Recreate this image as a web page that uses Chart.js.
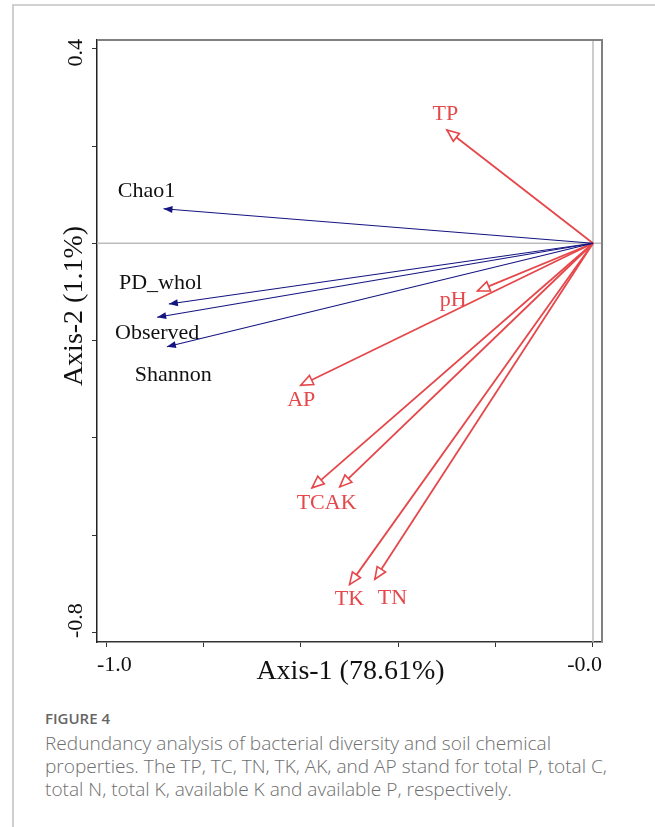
<!DOCTYPE html>
<html>
<head>
<meta charset="utf-8">
<script src="https://cdn.jsdelivr.net/npm/chart.js@4"></script>
<style>
html,body{margin:0;padding:0;background:#fff;width:655px;height:827px;overflow:hidden;position:relative;}
#frameTop{position:absolute;left:12px;top:4px;width:643px;height:2px;background:#d2d2d2;}
#frameLeft{position:absolute;left:12px;top:4px;width:2px;height:823px;background:#cfcfcf;}
#wrap{position:absolute;left:0;top:0;width:655px;height:690px;}
#fig{position:absolute;left:45px;top:708px;font-family:'Open Sans',sans-serif;font-weight:600;font-size:15px;color:#666;}
#cap{position:absolute;left:45px;top:732px;width:610px;font-family:'Open Sans',sans-serif;font-weight:300;font-size:19.1px;line-height:23px;color:#6e6e6e;white-space:nowrap;}
</style>
</head>
<body>
<div id="frameTop"></div>
<div id="frameLeft"></div>
<div id="wrap"><canvas id="c" width="655" height="690"></canvas></div>
<div id="fig">FIGURE 4</div>
<div id="cap">Redundancy analysis of bacterial diversity and soil chemical<br>properties. The TP, TC, TN, TK, AK, and AP stand for total P, total C,<br>total N, total K, available K and available P, respectively.</div>
<script>
// ---- data ----
const envNames = ['TP', 'pH', 'AP', 'TC', 'AK', 'TK', 'TN'];
const envAxis1 = [-0.300, -0.237, -0.600, -0.577, -0.520, -0.500, -0.448];
const envAxis2 = [0.233, -0.098, -0.292, -0.503, -0.501, -0.702, -0.691];

const divNames = ['Chao1', 'PD_whol', 'Observed', 'Shannon'];
const divAxis1 = [-0.882, -0.871, -0.895, -0.875];
const divAxis2 = [0.071, -0.125, -0.152, -0.213];

// label anchor points (data units)
const envLabels = ['TP', 'pH', 'AP', 'TCAK', 'TK', 'TN'];
const envLabelAxis1 = [-0.303, -0.287, -0.599, -0.547, -0.500, -0.412];
const envLabelAxis2 = [0.266, -0.117, -0.323, -0.534, -0.732, -0.729];
const divLabels = ['Chao1', 'PD_whol', 'Observed', 'Shannon'];
const divLabelAxis1 = [-0.917, -0.888, -0.895, -0.862];
const divLabelAxis2 = [0.108, -0.082, -0.185, -0.271];

const xTickValues = [-1.0, -0.8, -0.6, -0.4, -0.2, 0.0];
const yTickValues = [0.4, 0.2, 0.0, -0.2, -0.4, -0.6, -0.8];
const xTickLabels = ['-1.0', '', '', '', '', '-0.0'];
const yTickLabels = ['0.4', '', '', '', '', '', '-0.8'];
const xTitle = 'Axis-1 (78.61%)';
const yTitle = 'Axis-2 (1.1%)';

const RED = '#e5474a';
const BLUE = '#141482';
const SERIF = '"Liberation Serif", "Times New Roman", serif';

const datasets = [];
divNames.forEach((n, i) => datasets.push({
  label: n, head: 'filled',
  data: [{x: 0, y: 0}, {x: divAxis1[i], y: divAxis2[i]}],
  borderColor: BLUE, borderWidth: 1.1, showLine: true, pointRadius: 0
}));
envNames.forEach((n, i) => datasets.push({
  label: n, head: 'open',
  data: [{x: 0, y: 0}, {x: envAxis1[i], y: envAxis2[i]}],
  borderColor: RED, borderWidth: 1.8, showLine: true, pointRadius: 0
}));

function seg(ctx, x1, y1, x2, y2) { ctx.beginPath(); ctx.moveTo(x1, y1); ctx.lineTo(x2, y2); ctx.stroke(); }

const rdaPlugin = {
  id: 'rda',
  beforeDatasetsDraw(chart) {
    const {ctx, chartArea: a, scales: {x, y}} = chart;
    ctx.save();
    const x0 = x.getPixelForValue(0), y0 = y.getPixelForValue(0);
    ctx.strokeStyle = '#bdbdbd'; ctx.lineWidth = 1.5;
    seg(ctx, a.left, y0, a.right, y0);
    seg(ctx, x0, a.top, x0, a.bottom);
    ctx.strokeStyle = '#808080'; ctx.lineWidth = 2;
    seg(ctx, a.left, a.top, a.right + 1, a.top);
    seg(ctx, a.right, a.top, a.right, a.bottom);
    ctx.restore();
  },
  afterDatasetsDraw(chart) {
    const {ctx, scales: {x, y}} = chart;
    ctx.save();
    chart.data.datasets.forEach((ds, i) => {
      const pts = chart.getDatasetMeta(i).data;
      const p0 = pts[0], p1 = pts[1];
      const ang = Math.atan2(p1.y - p0.y, p1.x - p0.x);
      const open = ds.head === 'open';
      const L = open ? 12 : 9, W = open ? 5 : 3.5;
      const bx = p1.x - L * Math.cos(ang), by = p1.y - L * Math.sin(ang);
      const nx = -Math.sin(ang) * W, ny = Math.cos(ang) * W;
      ctx.beginPath();
      ctx.moveTo(p1.x, p1.y);
      ctx.lineTo(bx + nx, by + ny);
      ctx.lineTo(bx - nx, by - ny);
      ctx.closePath();
      if (open) {
        ctx.fillStyle = '#fff'; ctx.fill();
        ctx.strokeStyle = RED; ctx.lineWidth = 1.6; ctx.lineJoin = 'miter'; ctx.stroke();
      } else {
        ctx.fillStyle = BLUE; ctx.fill();
      }
    });
    ctx.font = '22px ' + SERIF;
    ctx.textAlign = 'center'; ctx.textBaseline = 'middle';
    ctx.fillStyle = '#111';
    divLabels.forEach((t, i) => ctx.fillText(t, x.getPixelForValue(divLabelAxis1[i]), y.getPixelForValue(divLabelAxis2[i])));
    ctx.fillStyle = RED;
    envLabels.forEach((t, i) => ctx.fillText(t, x.getPixelForValue(envLabelAxis1[i]), y.getPixelForValue(envLabelAxis2[i])));
    ctx.restore();
  },
  afterDraw(chart) {
    const {ctx, chartArea: a, scales: {x, y}} = chart;
    ctx.save();
    ctx.fillStyle = '#111';
    ctx.font = '22px ' + SERIF;
    ctx.textBaseline = 'alphabetic';
    xTickValues.forEach((v, i) => {
      const t = xTickLabels[i]; if (!t) return;
      const first = i === 0;
      ctx.textAlign = first ? 'left' : 'right';
      ctx.fillText(t, first ? a.left : a.right, a.bottom + 29);
    });
    yTickValues.forEach((v, i) => {
      const t = yTickLabels[i]; if (!t) return;
      const first = i === 0;
      ctx.save();
      ctx.translate(a.left - 15, first ? a.top - 1 : a.bottom - 4);
      ctx.rotate(-Math.PI / 2);
      ctx.textAlign = first ? 'right' : 'left';
      ctx.fillText(t, 0, 0);
      ctx.restore();
    });
    ctx.font = '28px ' + SERIF;
    ctx.textAlign = 'center';
    ctx.fillText(xTitle, (a.left + a.right) / 2 + 1, a.bottom + 37);
    ctx.save();
    ctx.translate(a.left - 15.5, (a.top + a.bottom) / 2 - 35);
    ctx.rotate(-Math.PI / 2);
    ctx.fillText(yTitle, 0, 0);
    ctx.restore();
    ctx.restore();
  }
};

new Chart(document.getElementById('c'), {
  type: 'scatter',
  data: {datasets},
  options: {
    responsive: false,
    devicePixelRatio: 1,
    animation: false,
    events: [],
    layout: {padding: {left: 87, top: 40, right: 53, bottom: 38}},
    plugins: {legend: {display: false}, tooltip: {enabled: false}},
    scales: {
      x: {
        type: 'linear', position: 'bottom', min: -1.0185, max: 0.0185,
        afterBuildTicks: s => { s.ticks = xTickValues.map(v => ({value: v})); },
        afterFit: s => { s.height = 10; },
        ticks: {display: false},
        grid: {display: true, drawOnChartArea: false, drawTicks: true, tickLength: 5, tickColor: '#333', tickWidth: 1},
        border: {display: true, color: '#333', width: 1.5}
      },
      y: {
        type: 'linear', position: 'left', min: -0.820, max: 0.418,
        afterBuildTicks: s => { s.ticks = yTickValues.map(v => ({value: v})); },
        afterFit: s => { s.width = 10; },
        ticks: {display: false},
        grid: {display: true, drawOnChartArea: false, drawTicks: true, tickLength: 5, tickColor: '#333', tickWidth: 1},
        border: {display: true, color: '#222', width: 1.5}
      }
    }
  },
  plugins: [rdaPlugin]
});
</script>
</body>
</html>
